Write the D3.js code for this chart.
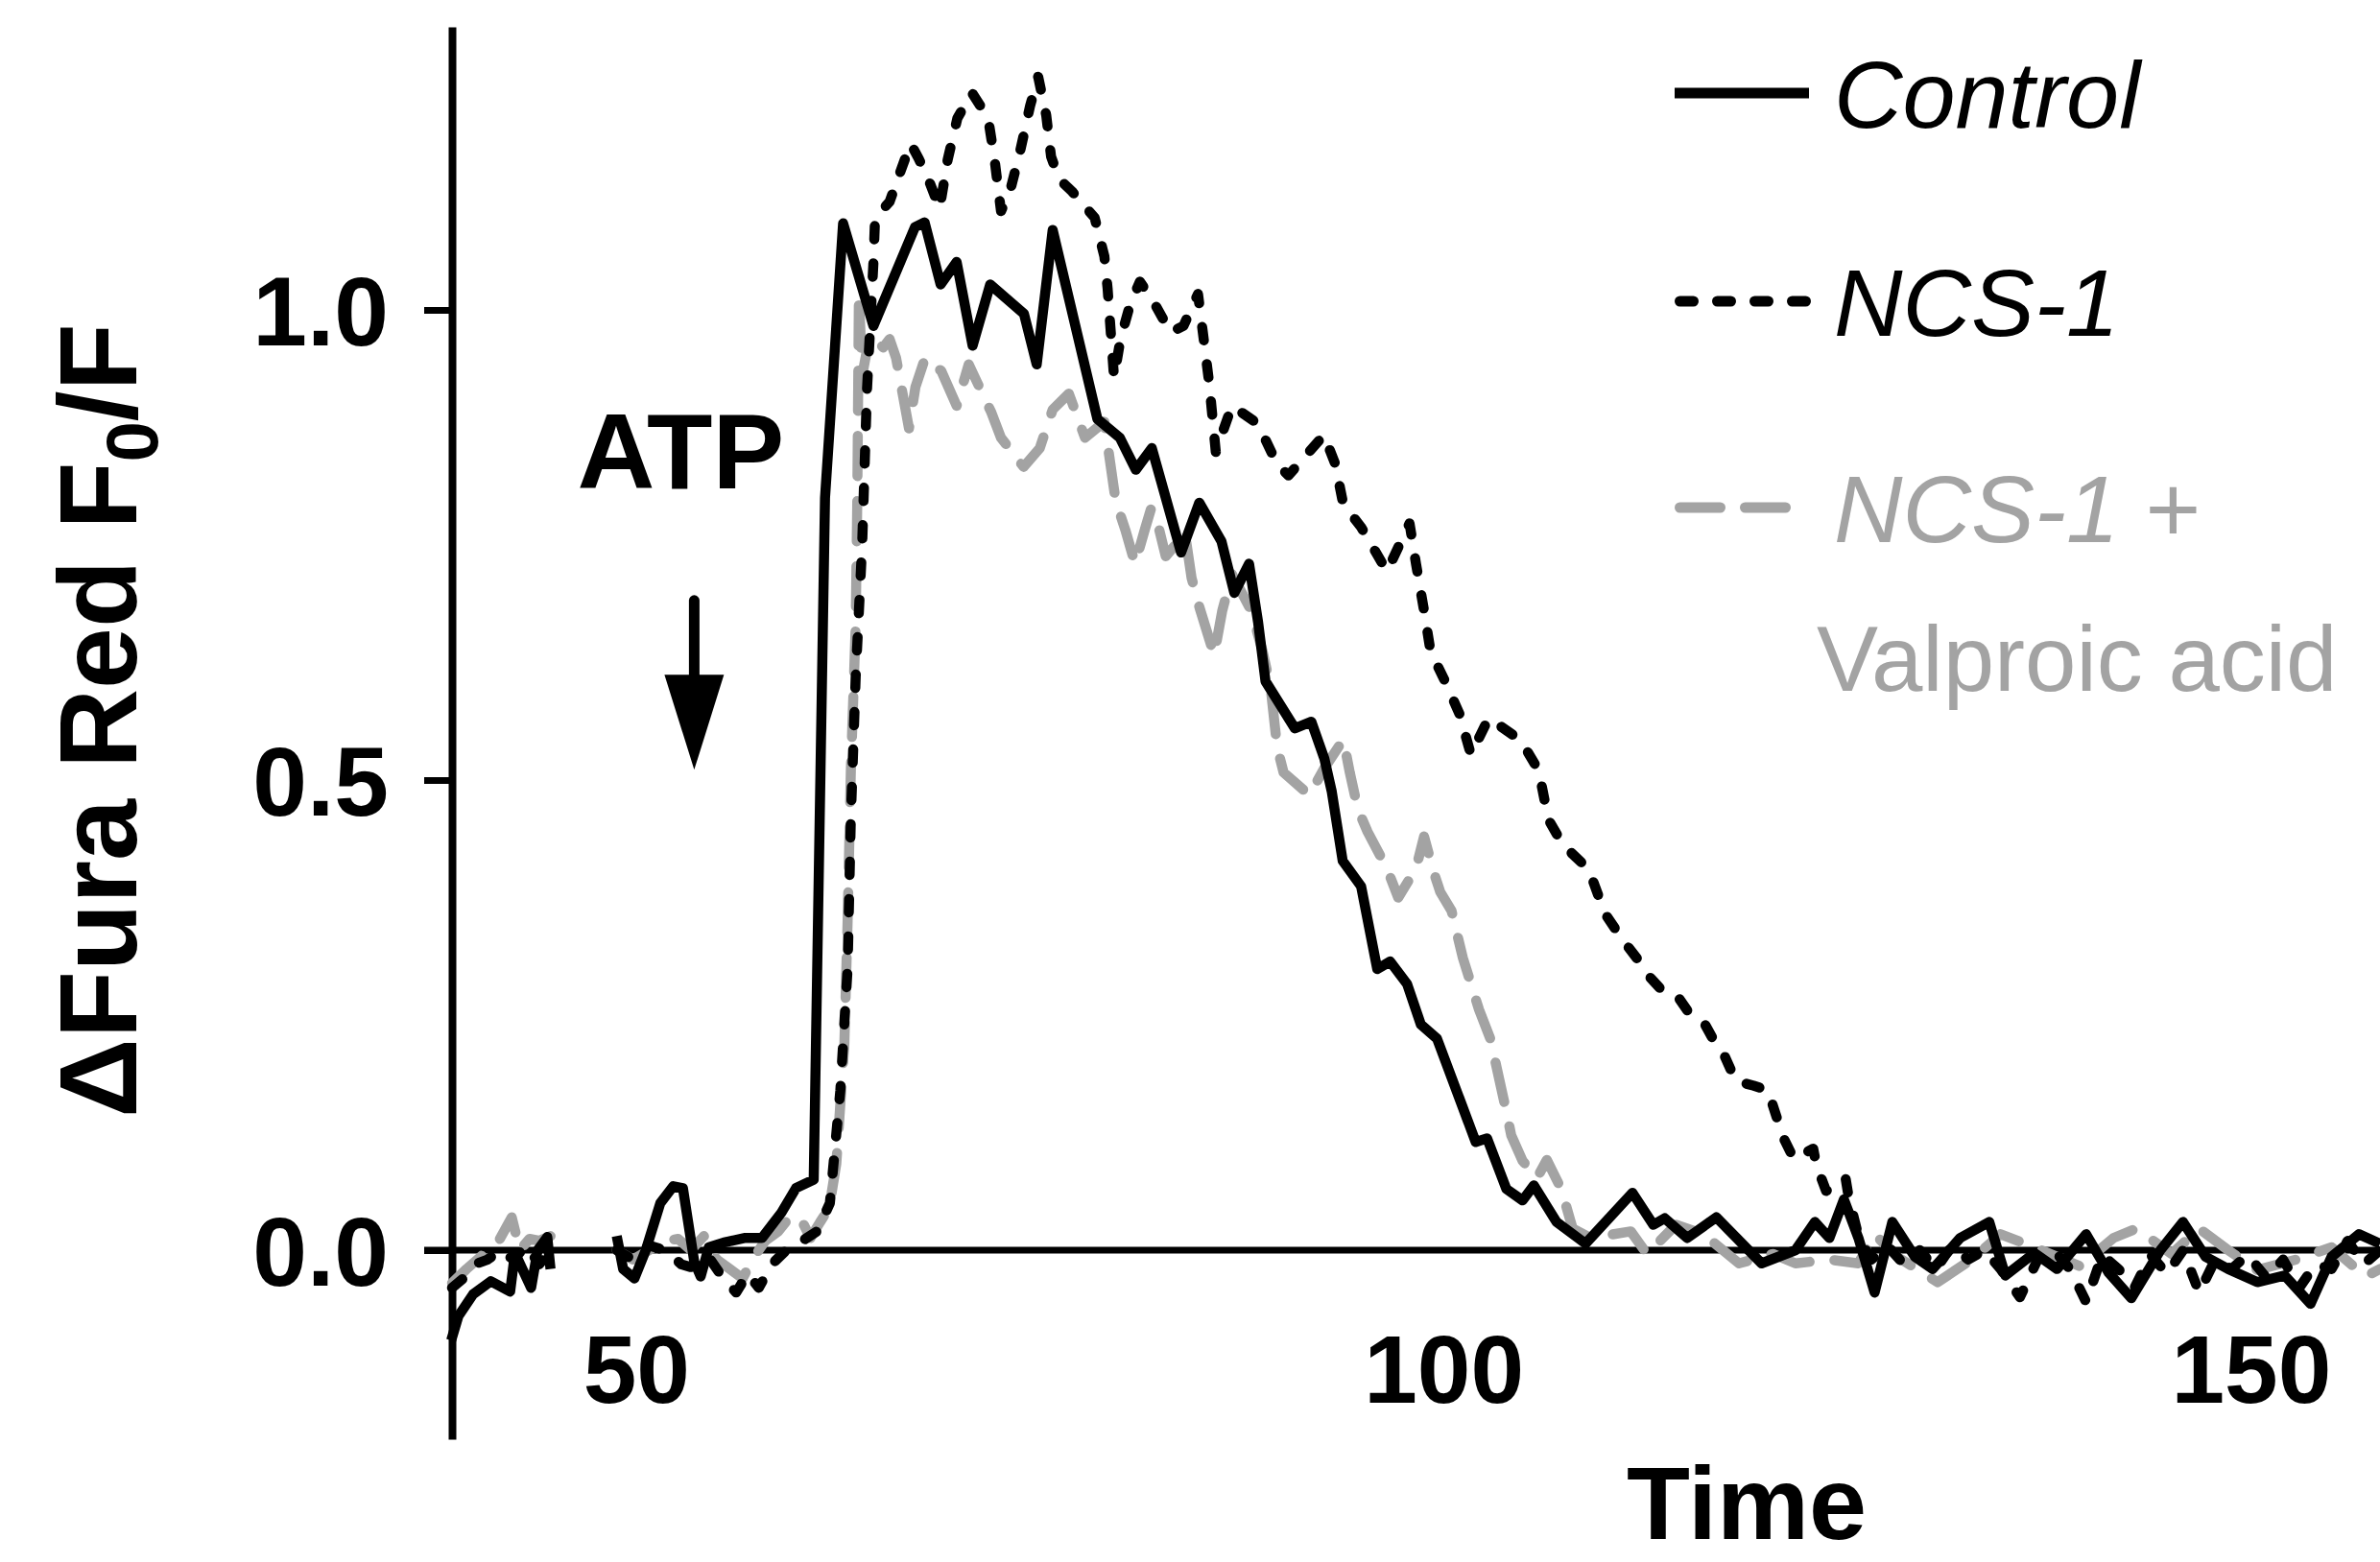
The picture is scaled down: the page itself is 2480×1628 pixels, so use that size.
<!DOCTYPE html>
<html>
<head>
<meta charset="utf-8">
<script src="https://cdn.jsdelivr.net/npm/d3@7"></script>
<style>
  body { margin: 0; background: #fff; }
  svg { display: block; font-family: "Liberation Sans", Arial, sans-serif; }
</style>
</head>
<body>
<svg id="chart" width="2480" height="1628"></svg>
<script>
// tick values
var xTicks = [50, 100, 150];
var yTicks = [0, 0.5, 1.0];

// [time, dFura]; null marks the break in the recording
var control = [
  [38.55,-0.096],[39.0,-0.07],[39.9,-0.047],[41.0,-0.033],[42.2,-0.044],[42.5,-0.003],[43.5,-0.04],[43.9,0.0],[44.5,0.014],[44.7,-0.02],
  null,
  [48.8,0.015],[49.2,-0.02],[49.9,-0.03],[50.6,0.0],[51.5,0.05],[52.3,0.068],[52.9,0.066],[53.6,-0.012],[54.0,-0.028],[54.5,0.003],
  [55.4,0.008],[56.7,0.013],[57.8,0.013],[59.0,0.04],[59.9,0.066],[61.0,0.075],[61.7,0.8],[62.82,1.092],[64.7,0.983],[67.27,1.088],
  [67.87,1.093],[68.86,1.027],[69.85,1.051],[70.84,0.962],[71.93,1.027],[74.02,0.996],[74.81,0.942],[75.8,1.085],[78.57,0.884],
  [79.96,0.864],[80.95,0.83],[81.94,0.853],[83.75,0.742],[84.88,0.795],[86.25,0.754],[87.05,0.699],[87.96,0.73],[88.52,0.668],
  [88.98,0.605],[90.8,0.555],[91.82,0.562],[92.62,0.523],[93.08,0.488],[93.76,0.414],[94.9,0.387],[95.9,0.299],[96.7,0.307],
  [97.75,0.283],[98.6,0.24],[99.6,0.225],[102.0,0.115],[102.7,0.119],[103.9,0.065],[104.9,0.053],[105.6,0.069],[107.0,0.03],
  [108.8,0.007],[111.7,0.061],[113.0,0.027],[113.7,0.034],[115.1,0.013],[116.9,0.035],[119.7,-0.014],[121.8,0.0],[123.0,0.03],
  [123.9,0.013],[124.8,0.054],[125.7,0.013],[126.7,-0.045],[127.8,0.03],[129.2,-0.007],[130.3,-0.02],[132.0,0.013],[133.8,0.03],
  [134.8,-0.027],[136.6,-0.003],[138.0,-0.02],[139.8,0.017],[141.2,-0.024],[142.6,-0.051],[144.4,0.0],[145.8,0.03],[147.2,-0.007],
  [148.6,-0.02],[150.4,-0.034],[152.1,-0.027],[153.7,-0.057],[155.0,-0.007],[156.7,0.017],[158.0,0.007]
];

var ncs1 = [
  [38.6,-0.04],[39.3,-0.03],[40.0,-0.015],[40.8,-0.01],[41.6,0.0],[42.4,-0.01],[43.2,0.005],[44.0,-0.015],[44.7,0.0],
  null,
  [48.8,0.0],[49.8,-0.01],[50.8,0.005],[51.8,0.0],[52.8,-0.015],[53.8,-0.02],[54.6,-0.01],[55.4,-0.03],[56.2,-0.045],[56.9,-0.025],
  [57.6,-0.04],[58.4,-0.015],[59.3,0.0],[60.3,0.01],[61.2,0.02],[62.0,0.05],[62.65,0.17],[63.1,0.3],[63.3,0.46],[63.6,0.61],
  [64.0,0.75],[64.3,0.915],[64.7,1.051],[64.8,1.098],[65.7,1.115],[66.2,1.139],[67.0,1.177],[67.5,1.161],[68.1,1.139],[68.8,1.108],
  [69.3,1.16],[69.9,1.204],[70.8,1.231],[71.8,1.204],[72.2,1.16],[72.6,1.105],[73.2,1.129],[73.8,1.17],[74.4,1.217],[74.9,1.248],
  [75.4,1.207],[75.7,1.163],[76.2,1.139],[77.0,1.126],[78.4,1.098],[79.0,1.057],[79.2,1.023],[79.6,0.928],[80.0,0.969],[80.6,1.006],
  [81.2,1.03],[82.0,1.01],[83.1,0.976],[83.9,0.983],[84.8,1.017],[85.1,0.976],[85.5,0.921],[85.9,0.849],[86.9,0.898],[88.5,0.879],
  [89.7,0.836],[90.4,0.824],[92.6,0.867],[93.3,0.836],[93.8,0.793],[94.9,0.769],[96.5,0.722],[97.9,0.773],[98.3,0.73],[98.8,0.68],
  [99.2,0.637],[100.1,0.605],[101.0,0.57],[101.7,0.527],[102.8,0.566],[104.8,0.542],[105.9,0.51],[106.5,0.458],[107.4,0.431],
  [109.0,0.405],[110.0,0.358],[111.1,0.33],[112.0,0.31],[112.8,0.29],[113.6,0.275],[114.5,0.27],[115.3,0.25],[116.2,0.24],
  [117.0,0.215],[117.4,0.207],[118.1,0.18],[119.2,0.175],[120.1,0.17],[120.7,0.138],[121.1,0.118],[121.7,0.097],[122.9,0.108],
  [123.1,0.09],[123.7,0.063],[124.9,0.077],[125.1,0.056],[125.7,0.015],[126.5,-0.01],[127.5,0.005],[128.5,-0.015],[129.5,0.0],
  [130.5,-0.02],[131.5,0.005],[132.5,-0.01],[133.5,0.0],[134.5,-0.02],[135.7,-0.05],[136.8,-0.01],[137.8,0.0],[138.8,-0.02],
  [139.8,-0.055],[140.8,-0.005],[141.8,-0.02],[142.8,-0.04],[143.8,-0.005],[144.8,-0.025],[145.8,0.0],[146.8,-0.045],[147.8,-0.01],
  [148.8,-0.02],[149.8,-0.005],[151.0,-0.03],[152.0,-0.01],[153.0,-0.04],[154.0,-0.015],[155.0,-0.02],[156.0,0.01],[157.0,-0.015],
  [158.0,0.0]
];

var ncs1Vpa = [
  [38.6,-0.035],[39.5,-0.02],[40.5,-0.005],[41.5,0.01],[42.3,0.035],[42.8,0.0],[43.4,0.012],[44.0,0.01],[44.7,0.015],
  null,
  [48.8,0.0],[49.8,-0.01],[50.8,0.0],[51.8,0.01],[52.6,0.012],[53.4,0.0],[54.2,0.015],[55.0,-0.01],[55.8,-0.02],[56.6,-0.03],
  [57.2,-0.01],[58.0,0.01],[58.8,0.02],[59.6,0.037],[60.3,0.03],[60.8,0.013],[61.4,0.03],[61.96,0.045],[62.4,0.092],[62.9,0.22],
  [63.1,0.35],[63.3,0.51],[63.6,0.664],[63.7,0.8],[63.8,1.017],[64.0,0.93],[64.5,0.976],[65.3,0.96],[65.7,0.969],[66.1,0.949],
  [66.9,0.874],[67.3,0.918],[67.9,0.949],[68.9,0.935],[69.85,0.898],[70.6,0.942],[72.0,0.891],[72.6,0.864],[74.0,0.833],[75.0,0.853],
  [75.8,0.894],[76.8,0.911],[77.8,0.864],[79.0,0.881],[79.7,0.797],[80.3,0.766],[80.9,0.73],[81.5,0.766],[81.9,0.789],[82.4,0.766],
  [82.8,0.738],[84.0,0.762],[84.4,0.715],[84.9,0.683],[85.8,0.633],[86.3,0.68],[86.9,0.719],[88.1,0.68],[88.8,0.637],[89.3,0.598],
  [89.7,0.535],[90.1,0.508],[91.7,0.484],[92.6,0.512],[93.8,0.543],[94.2,0.508],[94.7,0.469],[95.3,0.445],[96.5,0.406],[97.2,0.375],
  [98.3,0.406],[98.8,0.44],[99.4,0.402],[99.8,0.381],[100.5,0.361],[101.2,0.311],[102.2,0.256],[102.9,0.225],[103.9,0.147],
  [104.2,0.122],[104.9,0.095],[105.8,0.077],[106.4,0.096],[107.3,0.065],[108.0,0.023],[109.0,0.014],[109.8,0.015],[111.6,0.02],
  [112.6,-0.004],[114.4,0.027],[116.1,0.017],[118.3,-0.014],[120.4,-0.004],[121.8,-0.014],[123.9,-0.01],[125.7,-0.014],[126.7,0.017],
  [128.1,-0.007],[130.6,-0.034],[132.7,-0.01],[134.5,0.017],[136.6,0.003],[139.4,-0.017],[141.5,0.013],[142.9,0.023],[145.1,-0.004],
  [146.8,0.023],[148.6,0.0],[150.4,-0.021],[152.8,-0.01],[155.0,0.003],[157.1,-0.028],[158.0,-0.02]
];

var atpTime = 53.6;
var grey = "#a3a3a3";

var svg = d3.select("#chart");

var x = d3.scaleLinear().domain([38.6, 158]).range([471, 2480]);
var y = d3.scaleLinear().domain([-0.201, 1.301]).range([1500, 28]);

// y axis
var yAxis = svg.append("g")
  .attr("transform", "translate(" + x.range()[0] + ",0)")
  .call(d3.axisLeft(y).tickValues(yTicks).tickSize(29).tickSizeOuter(0).tickPadding(37).tickFormat(d3.format(".1f")));
yAxis.select(".domain").attr("stroke", "#000").attr("stroke-width", 8);
yAxis.selectAll(".tick line").attr("stroke", "#000").attr("stroke-width", 7);
yAxis.selectAll(".tick text")
  .attr("font-family", "Liberation Sans, Arial, sans-serif")
  .attr("font-size", 102).attr("font-weight", "bold").attr("fill", "#000").attr("dy", "0.36em");

// zero line doubles as the x axis
svg.append("line")
  .attr("x1", x.range()[0] - 29).attr("x2", x.range()[1])
  .attr("y1", y(0)).attr("y2", y(0))
  .attr("stroke", "#000").attr("stroke-width", 7);

var xAxis = svg.append("g")
  .attr("transform", "translate(0," + y(0) + ")")
  .call(d3.axisBottom(x).tickValues(xTicks).tickSize(0).tickPadding(88));
xAxis.select(".domain").remove();
xAxis.selectAll(".tick text")
  .attr("font-family", "Liberation Sans, Arial, sans-serif")
  .attr("font-size", 100).attr("font-weight", "bold").attr("fill", "#000");

// axis titles
svg.append("text")
  .attr("x", 1820).attr("y", 1604)
  .attr("text-anchor", "middle")
  .attr("font-size", 108).attr("font-weight", "bold")
  .text("Time");

var yl = svg.append("text")
  .attr("transform", "translate(142,751) rotate(-90)")
  .attr("text-anchor", "middle")
  .attr("font-size", 115).attr("font-weight", "bold");
yl.append("tspan").text("\u0394Fura Red F");
yl.append("tspan").attr("font-size", 76).attr("dy", 22).text("0");
yl.append("tspan").attr("dy", -22).text("/F");

// traces
var line = d3.line()
  .defined(function (d) { return d !== null; })
  .x(function (d) { return x(d[0]); })
  .y(function (d) { return y(d[1]); });

var styles = [
  { data: ncs1Vpa, color: grey, dash: "42 26" },
  { data: ncs1, color: "#000", dash: "14 25" },
  { data: control, color: "#000", dash: null }
];

svg.append("g").selectAll("path")
  .data(styles)
  .enter().append("path")
  .attr("d", function (d) { return line(d.data); })
  .attr("fill", "none")
  .attr("stroke", function (d) { return d.color; })
  .attr("stroke-width", 10.5)
  .attr("stroke-linejoin", "round")
  .attr("stroke-linecap", function (d) { return d.dash ? "round" : "butt"; })
  .attr("stroke-dasharray", function (d) { return d.dash; });

// ATP arrow
var ax = x(atpTime);
svg.append("line")
  .attr("x1", ax).attr("x2", ax)
  .attr("y1", y(0.691)).attr("y2", y(0.6))
  .attr("stroke", "#000").attr("stroke-width", 11).attr("stroke-linecap", "round");
svg.append("path")
  .attr("d", "M" + (ax - 31) + "," + y(0.612) + "L" + (ax + 31) + "," + y(0.612) + "L" + ax + "," + y(0.511) + "Z")
  .attr("fill", "#000");
svg.append("text")
  .attr("x", ax - 14).attr("y", y(0.81))
  .attr("text-anchor", "middle")
  .attr("font-size", 112).attr("font-weight", "bold")
  .text("ATP");

// legend
var legend = [
  { label: "Control", color: "#000", dash: null, y: 97 },
  { label: "NCS-1", color: "#000", dash: "14 25", y: 314 },
  { label: "NCS-1", color: grey, dash: "42 26", y: 529, extra: " +" }
];
var lg = svg.append("g");
legend.forEach(function (d) {
  lg.append("line")
    .attr("x1", d.dash ? 1750.5 : 1745).attr("x2", 1885)
    .attr("y1", d.y).attr("y2", d.y)
    .attr("stroke", d.color).attr("stroke-width", 11)
    .attr("stroke-linecap", d.dash ? "round" : "butt")
    .attr("stroke-dasharray", d.dash);
  var t = lg.append("text")
    .attr("x", 1911).attr("y", d.y + 36)
    .attr("font-size", 99).attr("fill", d.color);
  t.append("tspan").attr("font-style", "italic").text(d.label);
  if (d.extra) t.append("tspan").text(d.extra);
});
lg.append("text")
  .attr("x", 1893).attr("y", 720)
  .attr("font-size", 96).attr("fill", grey)
  .text("Valproic acid");
</script>
</body>
</html>
